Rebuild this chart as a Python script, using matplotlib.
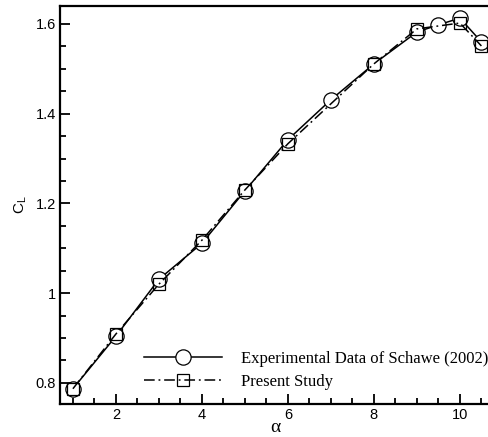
import matplotlib
matplotlib.use('Agg')
import matplotlib.pyplot as plt
from matplotlib.ticker import MultipleLocator

# Lift coefficient vs angle of attack
exp_alpha = [1, 2, 3, 4, 5, 6, 7, 8, 9, 9.5, 10, 10.5]
exp_cl = [0.787, 0.904, 1.031, 1.111, 1.228, 1.342, 1.431, 1.511, 1.582, 1.598, 1.613, 1.560]
pres_alpha = [1, 2, 3, 4, 5, 6, 8, 9, 10, 10.5]
pres_cl = [0.787, 0.909, 1.020, 1.118, 1.230, 1.333, 1.511, 1.589, 1.602, 1.551]

fig = plt.figure(figsize=(4.88, 4.37), dpi=100)
ax = fig.add_axes([60 / 488, 33 / 437, 430 / 488, 398 / 437])

ax.plot(exp_alpha, exp_cl, color='black', lw=1.1, marker='o', ms=11,
        mfc='white', mec='black', mew=0.9,
        label='Experimental Data of Schawe (2002)')
ax.plot(pres_alpha, pres_cl, color='black', lw=1.1, ls=(0, (7, 2.5, 1.2, 2.5)),
        marker='s', ms=9, mfc='none', mec='black', mew=0.9,
        label='Present Study')

ax.set_xlim(0.7, 10.7)
ax.set_ylim(0.753, 1.64)
ax.xaxis.set_minor_locator(MultipleLocator(0.5))
ax.yaxis.set_minor_locator(MultipleLocator(0.05))
ax.set_xticks([2, 4, 6, 8, 10])
ax.set_xticklabels(['2', '4', '6', '8', '10'])
ax.set_yticks([0.8, 1.0, 1.2, 1.4, 1.6])
ax.set_yticklabels(['0.8', '1', '1.2', '1.4', '1.6'])

ax.tick_params(which='both', direction='in', top=False, right=False,
               labelsize=10.5, width=1.3)
ax.tick_params(which='major', length=7, pad=3)
ax.tick_params(which='minor', length=4)
for lab in ax.get_xticklabels() + ax.get_yticklabels():
    lab.set_family('Liberation Sans')
for s in ax.spines.values():
    s.set_linewidth(1.6)

ax.set_xlabel('α', family='Liberation Serif', fontsize=14, labelpad=-2)
ax.set_ylabel(r'C$_\mathregular{L}$', family='Liberation Sans', fontsize=11, labelpad=5)

ax.legend(loc='lower left', bbox_to_anchor=(0.195, 0.035), frameon=False,
          handlelength=4.7, handletextpad=1.1, borderpad=0, borderaxespad=0,
          labelspacing=0.45, prop={'family': 'Liberation Serif', 'size': 12})

fig.savefig('out.png', dpi=100)
